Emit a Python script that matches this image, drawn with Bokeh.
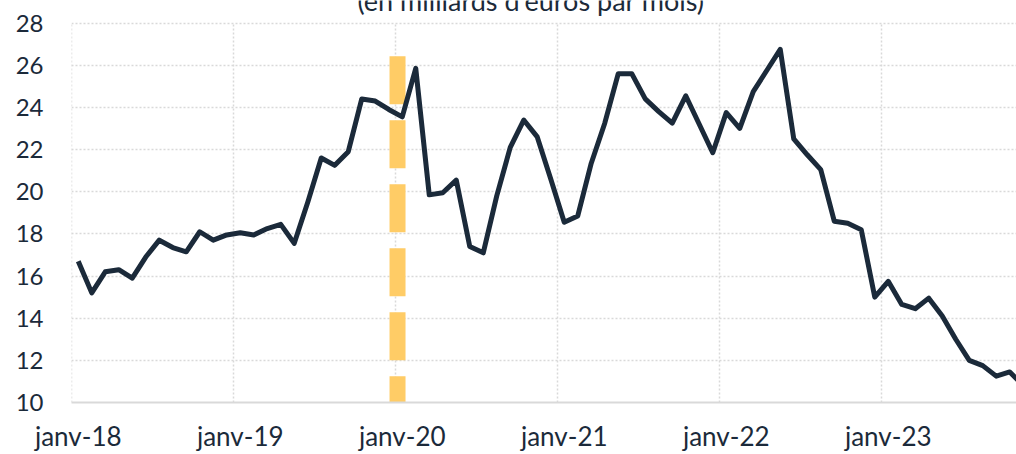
from bokeh.plotting import figure
from bokeh.models import Range1d, FixedTicker, Label
from bokeh.embed import file_html
from bokeh.resources import INLINE
import numpy as np

# Monthly values, Jan 2018 .. Nov 2023 (billions of euros per month)
values = [16.7, 15.2, 16.2, 16.3, 15.9, 16.9, 17.7, 17.35, 17.15, 18.1, 17.7, 17.95,
          18.05, 17.95, 18.25, 18.45, 17.55, 19.5, 21.6, 21.25, 21.9, 24.4, 24.3, 23.9,
          23.55, 25.85, 19.85, 19.95, 20.55, 17.4, 17.1, 19.8, 22.1, 23.4, 22.6, 20.6,
          18.55, 18.85, 21.35, 23.25, 25.6, 25.6, 24.4, 23.8, 23.25, 24.55, 23.2, 21.85,
          23.75, 23.0, 24.75, 25.75, 26.75, 22.5, 21.75, 21.05, 18.6, 18.5, 18.2, 15.0,
          15.75, 14.65, 14.45, 14.95, 14.1, 13.0, 12.0, 11.75, 11.25, 11.45, 10.8]
tick_labels = ["janv-18", "janv-19", "janv-20", "janv-21", "janv-22", "janv-23"]
y_ticks = [10, 12, 14, 16, 18, 20, 22, 24, 26, 28]
marker_month = [24.15, 24.15]      # vertical marker near janv-20
marker_vals = [26.42, 10]
title_text = "(en milliards d'euros par mois)"

FONT = "Lato"
INK = "#1B2A3A"
GRID = "#D9D9D9"

x = np.arange(len(values)) + 0.5
year_starts = [12 * i for i in range(len(tick_labels) + 1)]
label_pos = [s + 0.5 for s in year_starts[:len(tick_labels)]]
y_lo, y_hi = y_ticks[0], y_ticks[-1]

# canvas starts 12px above the page so the title is cut by the page top
p = figure(width=1016, height=466, output_backend="svg", toolbar_location=None,
           x_range=Range1d(0, 70), y_range=Range1d(10, 29.07),
           min_border_left=71, min_border_right=0, min_border_top=12, min_border_bottom=49)
p.styles = {"margin-top": "-12px"}
p.outline_line_color = None
p.background_fill_color = "white"
p.border_fill_color = "white"

# horizontal grid
p.ygrid.ticker = FixedTicker(ticks=y_ticks)
p.ygrid.grid_line_color = GRID
p.ygrid.grid_line_width = 1.5
p.ygrid.grid_line_dash = "2 2"
# vertical grid (stops at the top gridline)
p.xgrid.visible = False
p.segment(x0=year_starts, y0=[y_lo] * len(year_starts), x1=year_starts,
          y1=[y_hi] * len(year_starts), line_color=GRID, line_width=1.5, line_dash="2 2")

# x axis
p.xaxis.ticker = FixedTicker(ticks=label_pos)
p.xaxis.major_label_overrides = {pos: lab for pos, lab in zip(label_pos, tick_labels)}
p.xaxis.major_tick_line_color = None
p.xaxis.minor_tick_line_color = None
p.xaxis.major_tick_out = 0
p.xaxis.major_tick_in = 0
p.xaxis.minor_tick_out = 0
p.xaxis.axis_line_color = GRID
p.xaxis.axis_line_width = 2
p.xaxis.major_label_standoff = 17
p.xaxis.major_label_text_line_height = 1.0
p.xaxis.major_label_text_font = FONT
p.xaxis.major_label_text_font_size = "26px"
p.xaxis.major_label_text_color = INK

# y axis
p.yaxis.ticker = FixedTicker(ticks=y_ticks)
p.yaxis.major_tick_line_color = None
p.yaxis.minor_tick_line_color = None
p.yaxis.major_tick_out = 0
p.yaxis.major_tick_in = 0
p.yaxis.minor_tick_out = 0
p.yaxis.axis_line_color = None
p.yaxis.major_label_standoff = 28
p.yaxis.major_label_text_font = FONT
p.yaxis.major_label_text_font_size = "24px"
p.yaxis.major_label_text_color = INK

# marker
p.line(marker_month, marker_vals, line_color="#FFCC66", line_width=16, line_dash="48 16")

# series
p.line(x, values, line_color=INK, line_width=5, line_join="round")

p.add_layout(Label(x=34.04, y=29.07, text=title_text, text_align="center",
                   text_baseline="alphabetic", text_font=FONT, text_font_size="27px",
                   text_color=INK))

open("out.html", "w").write(file_html(p, INLINE))
